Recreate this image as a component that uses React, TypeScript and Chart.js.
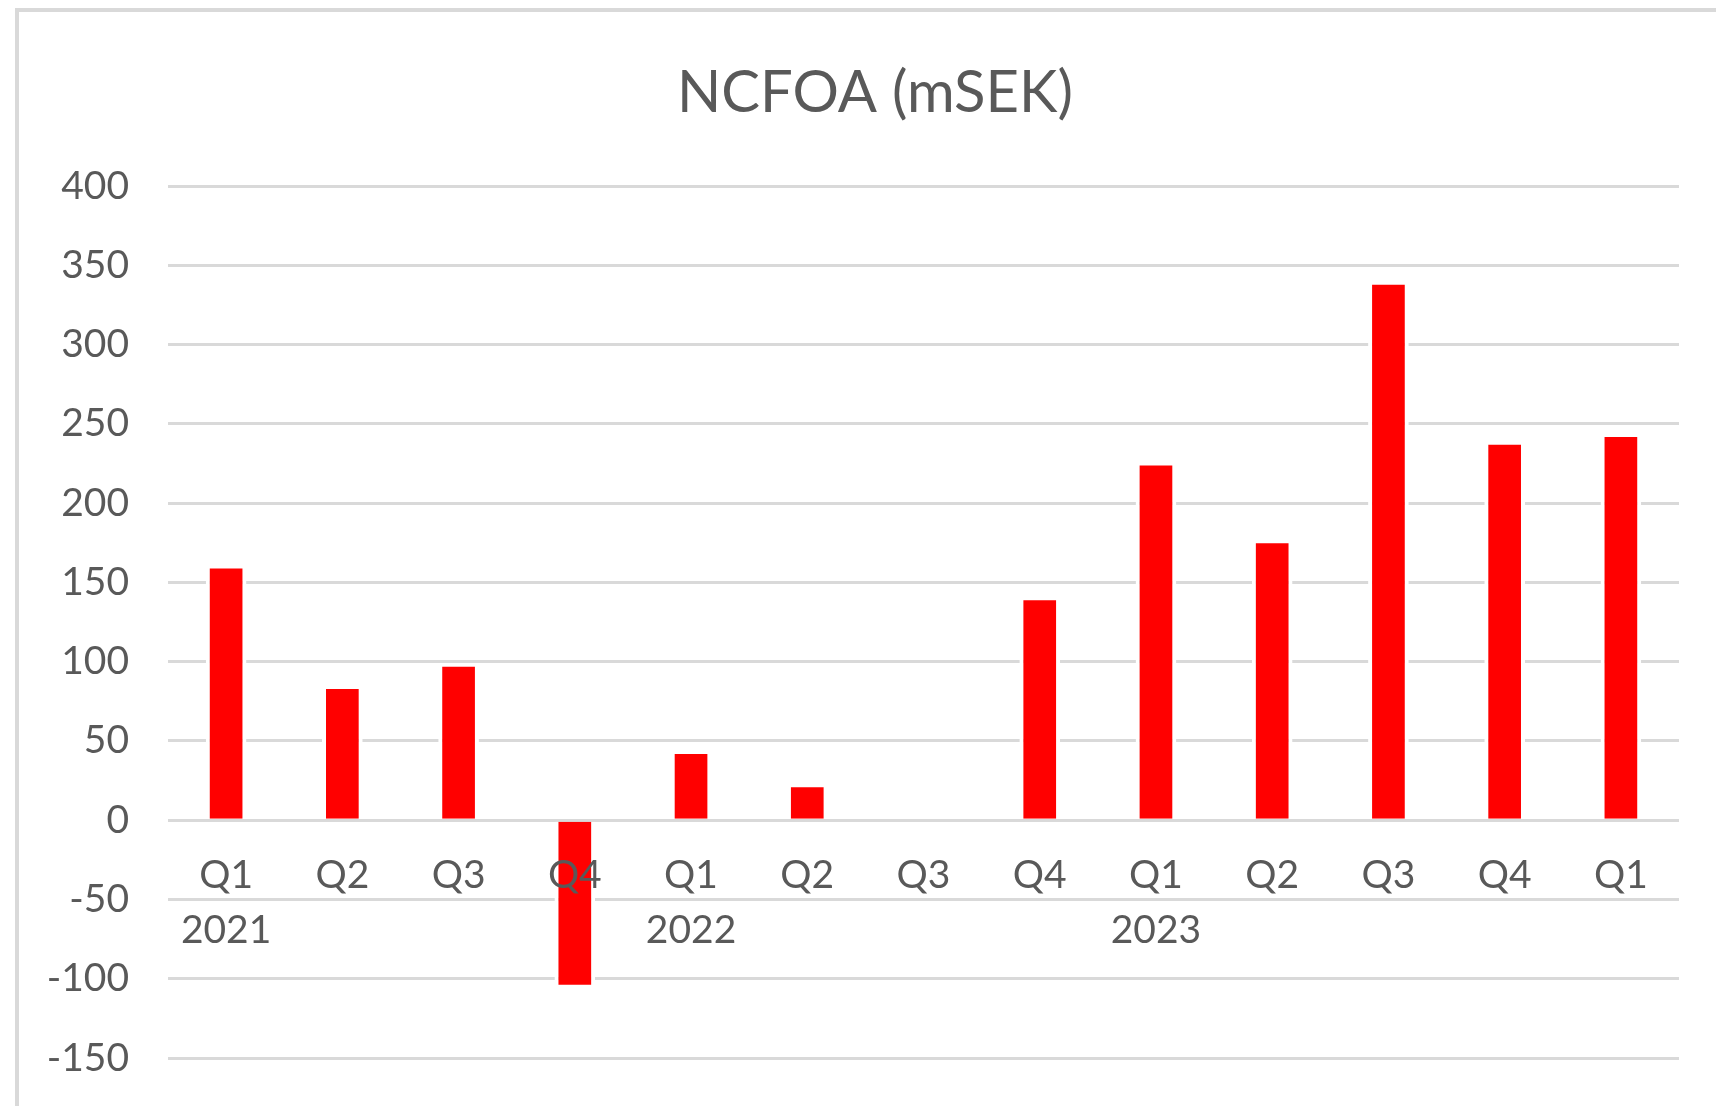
import React, { useEffect, useRef } from "react";
import { Chart, registerables } from "chart.js";

Chart.register(...registerables);

const quarters = ["Q1", "Q2", "Q3", "Q4", "Q1", "Q2", "Q3", "Q4", "Q1", "Q2", "Q3", "Q4", "Q1"];
const years = ["2021", "", "", "", "2022", "", "", "", "2023", "", "", "", ""];
const ncfoa = [160, 84, 98, -105, 43, 22, 0, 140, 225, 176, 339, 238, 243];
const yTicks = { min: -150, max: 400, step: 50 };
const titleText = "NCFOA (mSEK)";

const TEXT = "#595959";
const GRID = "#d9d9d9";
const FONT = "Lato, 'Open Sans', 'Liberation Sans', sans-serif";

export default function App() {
  const ref = useRef<HTMLCanvasElement | null>(null);

  useEffect(() => {
    if (!ref.current) return;
    const labels = quarters.map((q, i) => (years[i] ? [q, years[i]] : q));
    const titlePlugin = {
      id: "customTitle",
      afterDraw(chart: any) {
        const ctx = chart.ctx;
        ctx.save();
        ctx.font = `58px ${FONT}`;
        ctx.fillStyle = TEXT;
        ctx.textAlign = "center";
        ctx.textBaseline = "alphabetic";
        ctx.fillText(titleText, 875, 112);
        ctx.restore();
      },
    };
    const chart = new Chart(ref.current, {
      type: "bar",
      data: {
        labels,
        datasets: [
          {
            label: titleText,
            data: ncfoa,
            backgroundColor: "#ff0000",
            borderColor: "#ffffff",
            borderWidth: { top: 2, bottom: 2, left: 4, right: 4 },
            borderSkipped: "start",
            categoryPercentage: 1,
            barPercentage: 0.35,
          },
        ],
      },
      options: {
        responsive: false,
        animation: false,
        devicePixelRatio: 1,
        layout: { padding: { top: 186, right: 37, bottom: 48, left: 0 } },
        plugins: {
          legend: { display: false },
          title: { display: false },
          tooltip: { enabled: false },
        },
        scales: {
          x: {
            position: { y: 0 },
            grid: { display: false, drawTicks: false },
            border: { display: false },
            ticks: {
              z: 1,
              color: TEXT,
              font: { family: FONT, size: 39, lineHeight: 1.4 },
              padding: 28,
              maxRotation: 0,
              autoSkip: false,
            },
          },
          y: {
            min: yTicks.min,
            max: yTicks.max,
            afterFit(scale: any) {
              scale.width = 168;
              scale.paddingTop = 0;
              scale.paddingBottom = 0;
            },
            grid: { color: GRID, lineWidth: 3, drawTicks: false },
            border: { display: false },
            ticks: {
              stepSize: yTicks.step,
              color: TEXT,
              font: { family: FONT, size: 39 },
              padding: 39,
            },
          },
        },
      },
      plugins: [titlePlugin],
    });
    return () => chart.destroy();
  }, []);

  return (
    <div style={{ position: "absolute", left: 0, top: 0, width: 1716, height: 1106, background: "#fff", overflow: "hidden" }}>
      <div
        style={{
          position: "absolute",
          left: 15,
          top: 8,
          width: 1800,
          height: 1200,
          borderLeft: `4px solid ${GRID}`,
          borderTop: `4px solid ${GRID}`,
        }}
      />
      <canvas ref={ref} width={1716} height={1106} style={{ position: "absolute", left: 0, top: 0 }} />
    </div>
  );
}
